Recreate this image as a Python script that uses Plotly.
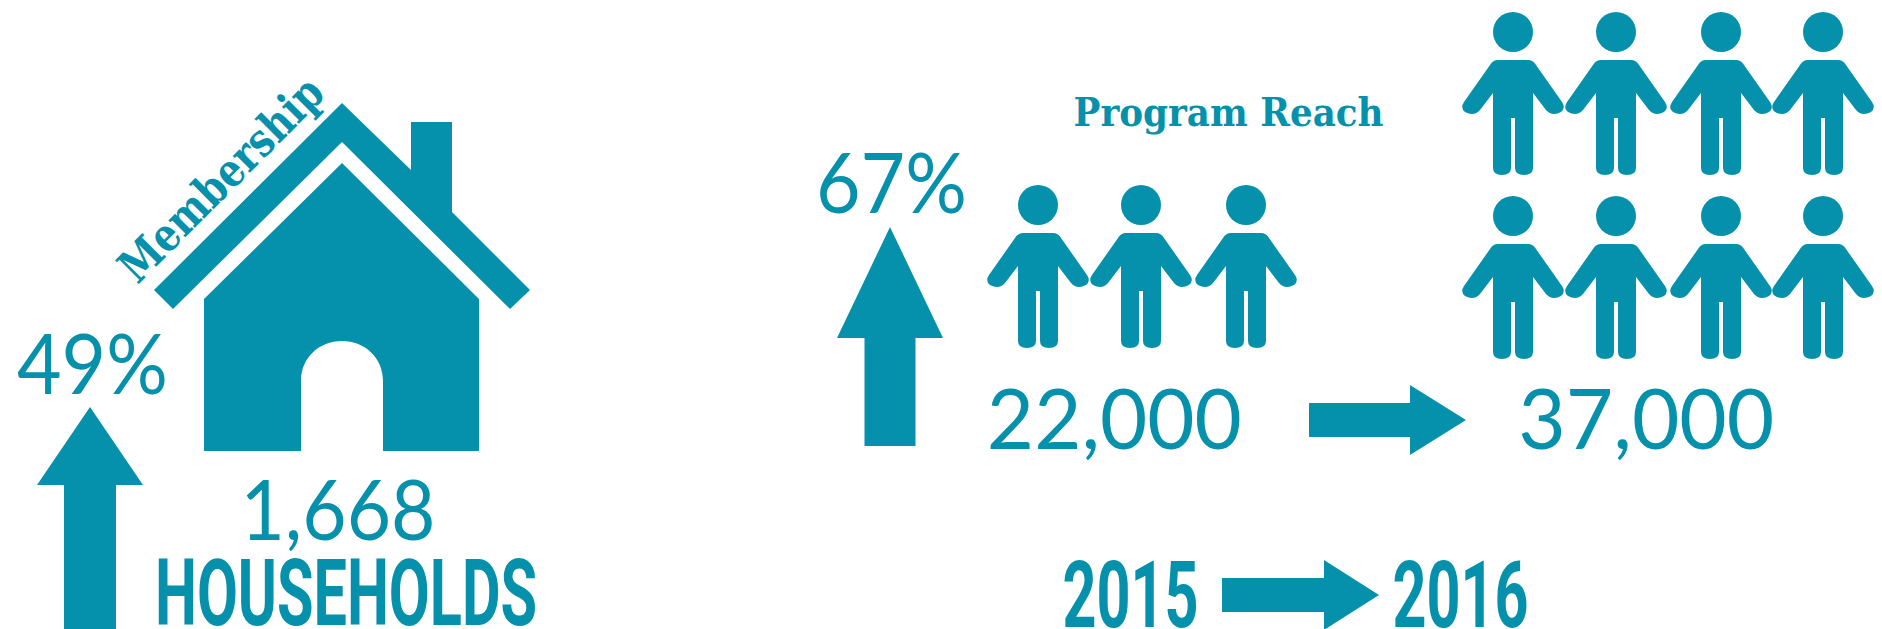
import plotly.graph_objects as go

TEAL = "#0590AB"
W, H = 1882, 629

# --- content ---
growth_labels = ["49%", "67%"]
membership_households = 1668
households_label = "HOUSEHOLDS"
membership_title = "Membership"
reach_title = "Program Reach"
reach_values = [22000, 37000]
years = ["2015", "2016"]

# --- pictogram placement (one icon per unit) ---
people_2015_x = [1038, 1141, 1246]
people_2015_y = [205, 205, 205]
people_2016_x = [1513, 1616, 1721, 1823, 1513, 1616, 1721, 1823]
people_2016_y = [32, 32, 32, 32, 216, 216, 216, 216]


def person_path(cx, cy):
    def p(dx, dy):
        return f"{cx + dx:.1f},{cy + dy:.1f}"
    return (
        f"M{p(-15, 28)} L{p(15, 28)} Q{p(20, 28)} {p(23, 33)} "
        f"L{p(49, 70)} Q{p(53, 76)} {p(48, 80)} Q{p(39, 85)} {p(33, 78)} "
        f"L{p(20, 61)} L{p(20, 136)} Q{p(20, 143)} {p(11, 143)} Q{p(2, 143)} {p(2, 136)} "
        f"L{p(2, 86)} L{p(-2, 86)} L{p(-2, 136)} Q{p(-2, 143)} {p(-11, 143)} Q{p(-20, 143)} {p(-20, 136)} "
        f"L{p(-20, 61)} L{p(-33, 78)} Q{p(-39, 85)} {p(-48, 80)} Q{p(-53, 76)} {p(-49, 70)} "
        f"L{p(-23, 33)} Q{p(-20, 28)} {p(-15, 28)} Z"
    )


def up_arrow(cx, tip, base, wing, shaft, bottom):
    return (f"M{cx},{tip} L{cx + wing},{base} L{cx + shaft},{base} L{cx + shaft},{bottom} "
            f"L{cx - shaft},{bottom} L{cx - shaft},{base} L{cx - wing},{base} Z")


def right_arrow(x0, neck, tip, cy, shaft, wing):
    return (f"M{x0},{cy - shaft} L{neck},{cy - shaft} L{neck},{cy - wing} L{tip},{cy} "
            f"L{neck},{cy + wing} L{neck},{cy + shaft} L{x0},{cy + shaft} Z")


roof = ("M342,103 L411,170 L411,122 L452,122 L452,212 L530,290 L510,309 L342,142 "
        "L173,309 L154,290 Z")
house = ("M342,163 L479,299 L479,451 L383,451 L383,381 C383,358 365,341 342,341 "
         "C319,341 301,358 301,381 L301,451 L204,451 L204,299 Z")

paths = [
    roof, house,
    up_arrow(90, 407, 485, 53, 26, 629),
    up_arrow(890, 227, 338, 53, 25.5, 446),
    right_arrow(1309, 1410, 1466, 420, 17, 35),
    right_arrow(1222, 1324, 1379, 595, 17, 35),
]
for x, y in zip(people_2015_x + people_2016_x, people_2015_y + people_2016_y):
    paths.append(person_path(x, y))

fig = go.Figure()
fig.add_trace(go.Scatter(
    x=people_2015_x + people_2016_x,
    y=people_2015_y + people_2016_y,
    mode="markers",
    marker=dict(size=40, color=TEAL, line=dict(width=0)),
    hoverinfo="skip",
    showlegend=False,
))

for d in paths:
    fig.add_shape(type="path", path=d, xref="x", yref="y",
                  fillcolor=TEAL, line=dict(width=0), layer="below")

NUM = dict(family="Lato", size=84, color=TEAL, weight=400)
COND = dict(family="Roboto", size=92, color=TEAL, weight=700)
SLAB = dict(family="DejaVu Serif", color=TEAL, weight=700)

labels = [
    (growth_labels[0], 92, 361, NUM, 0, 151),
    (growth_labels[1], 891, 180, NUM, 0, 151),
    (f"{membership_households:,}", 338, 507, NUM, 0, 195),
    (f"{reach_values[0]:,}", 1114, 416, NUM, 0, 255),
    (f"{reach_values[1]:,}", 1646, 416, NUM, 0, 256),
    (households_label, 346, 593, COND, 0, 382),
    (years[0], 1130, 595, COND, 0, 136),
    (years[1], 1460, 595, COND, 0, 136),
    (reach_title, 1228, 111, {**SLAB, "size": 40}, 0, 310),
    (membership_title, 221, 179, {**SLAB, "size": 46}, -45, 268),
]
for text, x, y, font, angle, _ in labels:
    fig.add_annotation(text=text, x=x, y=y, xref="x", yref="y", showarrow=False,
                       xanchor="center", yanchor="middle", textangle=angle, font=font)

fig.update_layout(
    width=W, height=H, margin=dict(l=0, r=0, t=0, b=0),
    paper_bgcolor="white", plot_bgcolor="white",
    xaxis=dict(range=[0, W], visible=False, fixedrange=True),
    yaxis=dict(range=[H, 0], visible=False, fixedrange=True),
)

fit = {str(t): w for t, _, _, _, _, w in labels}
post = """
document.body.style.margin = '0';
var fit = %s;
function fitText(){
  document.querySelectorAll('.annotation-text').forEach(function(t){
    var w = fit[t.textContent];
    if(w){ t.setAttribute('textLength', w); t.setAttribute('lengthAdjust','spacingAndGlyphs'); }
  });
}
fitText();
""" % str(fit).replace("'", '"')
fig.write_html("out.html", post_script=post, config={"displayModeBar": False})
